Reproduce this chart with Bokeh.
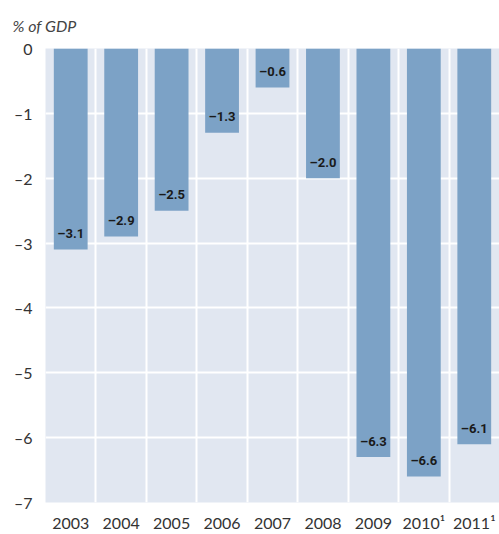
from bokeh.plotting import figure
from bokeh.models import ColumnDataSource, FixedTicker, LabelSet
from bokeh.embed import file_html
from bokeh.resources import INLINE
from bokeh.core.properties import value

years = ["2003", "2004", "2005", "2006", "2007", "2008", "2009", "2010\u00b9", "2011\u00b9"]
balance = [-3.1, -2.9, -2.5, -1.3, -0.6, -2.0, -6.3, -6.6, -6.1]
y_ticks = [0, -1, -2, -3, -4, -5, -6, -7]

BAR = "#7ca2c6"
BG = "#e1e7f1"

xs = [i + 0.5 for i in range(len(years))]
labels = ["\u2013%.1f" % abs(v) for v in balance]
src = ColumnDataSource(dict(x=xs, top=[0] * len(balance), bottom=balance, lab=labels))

p = figure(width=499, height=534, x_range=(0, len(years)), y_range=(-7, 0),
           output_backend="svg", toolbar_location=None,
           min_border_left=45, min_border_right=0, min_border_top=48, min_border_bottom=32)
p.background_fill_color = BG
p.border_fill_color = "white"
p.outline_line_color = None

p.title.text = "% of GDP"
p.title.align = "left"
p.title.offset = -33
p.title.standoff = 27
p.title.text_font = "Lato"
p.title.text_font_style = "italic"
p.title.text_font_size = "16px"
p.title.text_color = "#444444"

p.vbar(x="x", top="top", bottom="bottom", width=0.67, source=src,
       fill_color=BAR, line_color=None)

p.add_layout(LabelSet(x="x", y="bottom", text="lab", source=src, y_offset=16,
                      text_align="center", text_baseline="middle",
                      text_font=value("Roboto"), text_font_size="13px",
                      text_font_style="bold", text_color="#1a1a1a"))

# grids
p.xgrid.ticker = FixedTicker(ticks=list(range(1, len(years))))
p.ygrid.ticker = FixedTicker(ticks=y_ticks)
for g in (p.xgrid, p.ygrid):
    g.grid_line_color = "white"
    g.grid_line_width = 2
    g.level = "underlay"

# axes
p.xaxis.ticker = FixedTicker(ticks=xs)
p.xaxis.major_label_overrides = {x: y for x, y in zip(xs, years)}
p.yaxis.ticker = FixedTicker(ticks=y_ticks)
p.yaxis.major_label_overrides = {t: ("0" if t == 0 else "\u2013%d" % abs(t)) for t in y_ticks}
for ax in (p.xaxis, p.yaxis):
    ax.axis_line_color = None
    ax.major_tick_line_color = None
    ax.minor_tick_line_color = None
    ax.major_tick_out = 0
    ax.major_tick_in = 0
    ax.major_label_text_font = "Lato"
    ax.major_label_text_font_size = "16px"
    ax.major_label_text_color = "#333333"
p.xaxis.major_label_standoff = 10
p.yaxis.major_label_standoff = 13

open("out.html", "w").write(file_html(p, INLINE))
